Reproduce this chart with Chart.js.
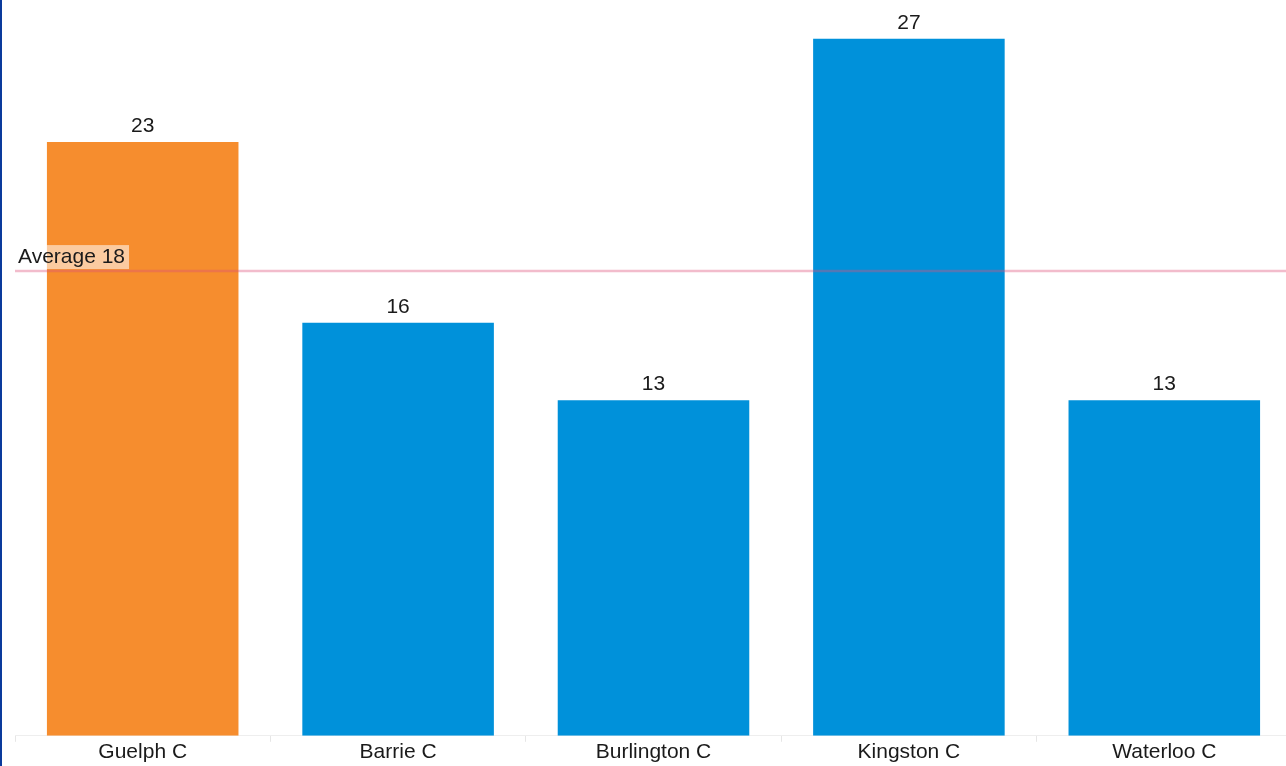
<!DOCTYPE html>
<html>
<head>
<meta charset="utf-8">
<script src="https://cdn.jsdelivr.net/npm/chart.js@4.4.1/dist/chart.umd.min.js"></script>
<style>
  html, body { margin: 0; padding: 0; background: #fff; overflow: hidden; }
  #wrap { width: 1284px; height: 766px; border-left: 2px solid #0a3a9c; overflow: hidden; }
  canvas { display: block; }
</style>
</head>
<body>
<div id="wrap"><canvas id="c" width="1290" height="766"></canvas></div>
<script>
const categories = ['Guelph C', 'Barrie C', 'Burlington C', 'Kingston C', 'Waterloo C'];
const values = [23, 16, 13, 27, 13];
const barColors = ['#F68D2E', '#0091DA', '#0091DA', '#0091DA', '#0091DA'];
const averageValue = 18;
const averageText = 'Average ' + averageValue;

const FONT = '"Liberation Sans", Arial, sans-serif';
const FONT_SIZE = 21;

// Value labels above each bar
const valueLabels = {
  id: 'valueLabels',
  afterDatasetsDraw(chart) {
    const ctx = chart.ctx;
    const meta = chart.getDatasetMeta(0);
    ctx.save();
    ctx.font = FONT_SIZE + 'px ' + FONT;
    ctx.fillStyle = '#1a1a1a';
    ctx.textAlign = 'center';
    ctx.textBaseline = 'bottom';
    meta.data.forEach((bar, i) => {
      ctx.fillText(String(values[i]), bar.x, bar.y - 5);
    });
    ctx.restore();
  }
};

// Horizontal average reference line with its caption
const averageLine = {
  id: 'averageLine',
  afterDatasetsDraw(chart) {
    const ctx = chart.ctx;
    const area = chart.chartArea;
    const y = chart.scales.y.getPixelForValue(averageValue);
    ctx.save();
    ctx.strokeStyle = 'rgba(220, 80, 120, 0.38)';
    ctx.lineWidth = 2.5;
    ctx.beginPath();
    ctx.moveTo(area.left, y);
    ctx.lineTo(area.right, y);
    ctx.stroke();

    ctx.font = FONT_SIZE + 'px ' + FONT;
    const w = ctx.measureText(averageText).width;
    ctx.fillStyle = 'rgba(255, 255, 255, 0.55)';
    ctx.fillRect(area.left + 1, y - 26, w + 6, 24);
    ctx.fillStyle = '#1a1a1a';
    ctx.textAlign = 'left';
    ctx.textBaseline = 'alphabetic';
    ctx.fillText(averageText, area.left + 3, y - 8);
    ctx.restore();
  }
};

new Chart(document.getElementById('c'), {
  type: 'bar',
  data: {
    labels: categories,
    datasets: [{
      data: values,
      backgroundColor: barColors,
      borderWidth: 0,
      categoryPercentage: 0.75,
      barPercentage: 1.0
    }]
  },
  options: {
    responsive: false,
    animation: false,
    layout: { padding: { left: 13, right: 0, top: 0, bottom: 3 } },
    plugins: {
      legend: { display: false },
      tooltip: { enabled: false }
    },
    scales: {
      x: {
        grid: {
          offset: true,
          drawOnChartArea: false,
          color: '#e6e6e6',
          tickLength: 6
        },
        border: { color: '#eeeeee', width: 1 },
        ticks: {
          color: '#1a1a1a',
          font: { family: FONT, size: FONT_SIZE },
          padding: -2
        }
      },
      y: {
        display: false,
        min: 0,
        max: 28.5
      }
    }
  },
  plugins: [valueLabels, averageLine]
});
</script>
</body>
</html>
